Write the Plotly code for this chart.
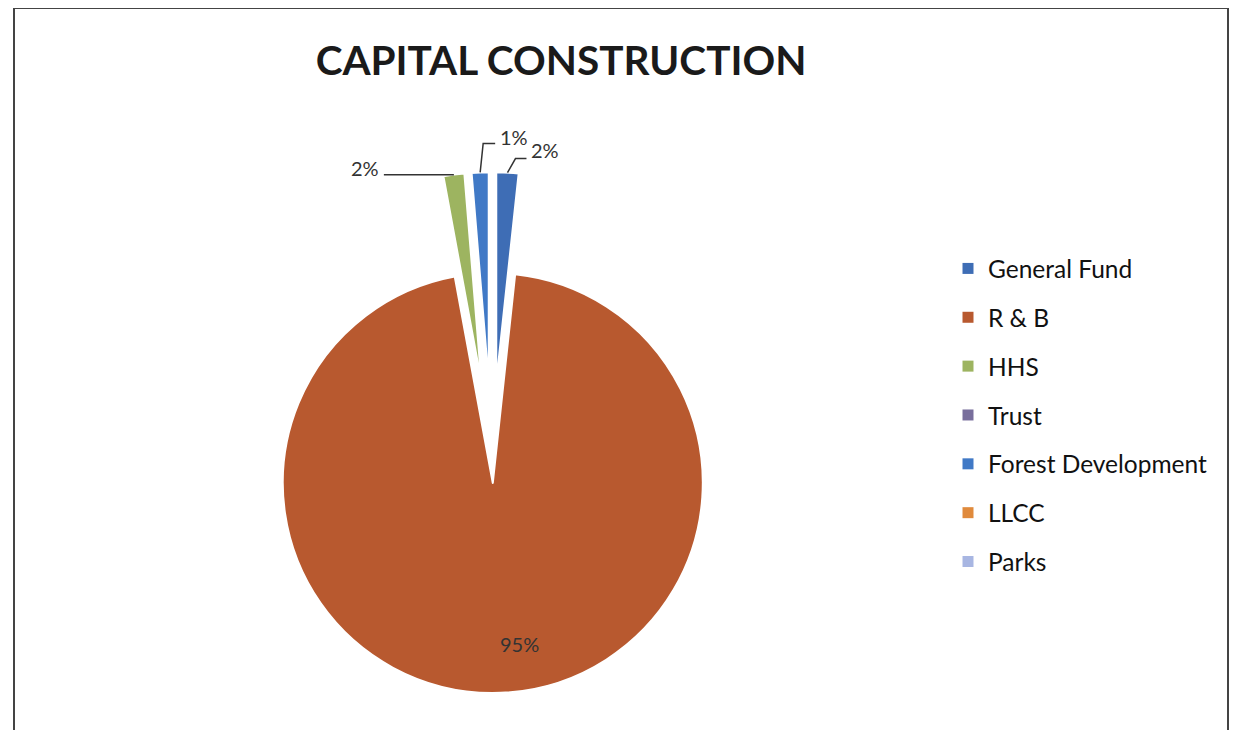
import math
import plotly.graph_objects as go

# chart data
labels = ["General Fund", "R & B", "HHS", "Trust", "Forest Development", "LLCC", "Parks"]
values = [1.7, 95.4, 1.6, 0, 1.3, 0, 0]
colors = ["#3E6DB5", "#B8592F", "#9DB460", "#786E9C", "#4079C6", "#E08A3C", "#A8B6E2"]
pulls = [0.38, 0.1, 0.38, 0, 0.38, 0, 0]
title = "CAPITAL CONSTRUCTION"

OFF = 8                    # page margin around the plot div
W, H = 1221, 722           # figure size in px
CX, CY, R = 492, 462, 210  # pie origin and radius, in screen px
FONT = "Lato"

# label placement (px offsets from the slice's outer arc midpoint) and leader lines
label_pos = {
    "R & B": dict(path=None, text=(19, -49), anchor="center"),
    "HHS": dict(path=[(0, 0), (-70, 0)], text=(-73, -7), anchor="right"),
    "Forest Development": dict(path=[(0, 0), (3, -29), (15, -29)], text=(18, -35), anchor="left"),
    "General Fund": dict(path=[(0, 0), (8, -14), (19, -14)], text=(22, -23), anchor="left"),
}


def to_paper(x, y):
    return (x - OFF) / W, 1 - (y - OFF) / H


fig = go.Figure()
total = sum(values)
n = len(values)
start = 0
tips = {}

# one pie trace per visible slice so each slice can be pulled out on its own
for i, (lab, v) in enumerate(zip(labels, values)):
    a0 = start
    start += v / total * 360
    if v <= 0:
        continue
    mid = math.radians((a0 + start) / 2)
    dx, dy = math.sin(mid), -math.cos(mid)
    cx = CX + pulls[i] * R * dx
    cy = CY + pulls[i] * R * dy
    tips[lab] = (cx + R * dx, cy + R * dy)
    x0, y1 = to_paper(cx - R, cy - R)
    x1, y0 = to_paper(cx + R, cy + R)
    fig.add_trace(go.Pie(
        labels=labels, values=values, sort=False, direction="clockwise", rotation=0,
        domain=dict(x=[x0, x1], y=[y0, y1]),
        marker=dict(colors=[c if j == i else "rgba(0,0,0,0)" for j, c in enumerate(colors)],
                    line=dict(color="white", width=[2 if j == i else 0 for j in range(n)])),
        textinfo="none", showlegend=False, hoverinfo="label+percent",
    ))

# percentage labels, with leader lines for the thin slices
for lab, cfg in label_pos.items():
    tx, ty = tips[lab]
    if cfg["path"]:
        pts = [to_paper(tx + ox, ty + oy) for ox, oy in cfg["path"]]
        path = "M " + " L ".join(f"{px:.5f},{py:.5f}" for px, py in pts)
        fig.add_shape(type="path", path=path, xref="paper", yref="paper",
                      line=dict(color="#333333", width=1.5))
    lx, ly = to_paper(tx + cfg["text"][0], ty + cfg["text"][1])
    pct = round(values[labels.index(lab)] / total * 100)
    fig.add_annotation(x=lx, y=ly, xref="paper", yref="paper", text=f"{pct}%",
                       showarrow=False, xanchor=cfg["anchor"], yanchor="middle",
                       font=dict(family=FONT, size=20, color="#333333"))

# legend entries
for lab, c in zip(labels, colors):
    fig.add_trace(go.Scatter(x=[None], y=[None], mode="markers", name=lab, legendgroup=lab,
                             marker=dict(symbol="square", size=11, color=c), hoverinfo="skip"))

# chart frame
fx0, fy1 = to_paper(14, 8)
fx1, _ = to_paper(1228, 0)
fig.add_shape(type="rect", xref="paper", yref="paper", x0=fx0, x1=fx1, y0=-0.1, y1=fy1,
              line=dict(color="#444444", width=2))

tx_, ty_ = to_paper(561, 61)
lgx, lgy = to_paper(948, 246)
fig.update_layout(
    width=W, height=H,
    title=dict(text=f"<b>{title}</b>", x=tx_, xanchor="center", y=ty_, yanchor="middle",
               font=dict(family=FONT, size=40.5, color="#1a1a1a")),
    legend=dict(x=lgx, y=lgy, xanchor="left", yanchor="top",
                font=dict(family=FONT, size=24.5, color="#111111"),
                traceorder="grouped", tracegroupgap=14, bgcolor="rgba(0,0,0,0)"),
    xaxis=dict(visible=False), yaxis=dict(visible=False),
    margin=dict(l=0, r=0, t=0, b=0),
    paper_bgcolor="white", plot_bgcolor="white",
)

fig.write_html("out.html")
